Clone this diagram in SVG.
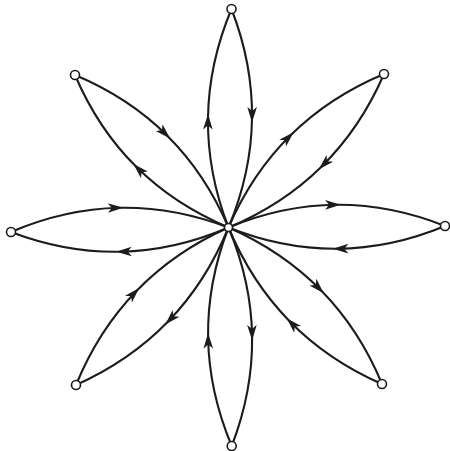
<svg xmlns="http://www.w3.org/2000/svg" width="450" height="451" viewBox="0 0 450 451">
<style>
.edge{fill:none;stroke:#1c1c1c;stroke-width:2.1;marker-mid:url(#arr)}
.node{fill:#fff;stroke:#1c1c1c;stroke-width:1.6}
</style>
<defs>
<marker id="arr" markerUnits="userSpaceOnUse" viewBox="-18 -6 24 12" markerWidth="24" markerHeight="12" refX="-4" refY="0" orient="auto">
<path d="M0,0 L-15.5,-4.8 L-11.5,0 L-15.5,4.8 Z" fill="#1c1c1c"/>
</marker>
</defs>
<rect width="450" height="451" fill="#fff"/>
<g id="connectors">
<path class="edge" d="M228.5,227.5 Q207.25,172.6 208,117.95 Q208.75,63.3 231.5,9"/>
<path class="edge" d="M231.5,9 Q252.75,63.9 252,118.55 Q251.25,173.2 228.5,227.5"/>
<path class="edge" d="M228.5,227.5 Q282.48,205.13 336.6,204.75 Q390.73,204.38 445,226"/>
<path class="edge" d="M445,226 Q391.03,248.38 336.9,248.75 Q282.78,249.13 228.5,227.5"/>
<path class="edge" d="M228.5,227.5 Q251.3,281.8 252.1,336.43 Q252.9,391.06 231.7,446"/>
<path class="edge" d="M231.7,446 Q208.9,391.7 208.1,337.07 Q207.3,282.45 228.5,227.5"/>
<path class="edge" d="M228.5,227.5 Q174.58,250.62 120.2,251.75 Q65.83,252.87 11,232"/>
<path class="edge" d="M11,232 Q64.92,208.88 119.3,207.75 Q173.67,206.63 228.5,227.5"/>
<path class="edge" d="M228.5,227.5 Q174.62,204.98 136.24,166.86 Q97.87,128.73 75,75"/>
<path class="edge" d="M75,75 Q128.88,97.52 167.26,135.64 Q205.63,173.77 228.5,227.5"/>
<path class="edge" d="M228.5,227.5 Q251.92,173.47 290.8,135.09 Q329.67,96.72 384,74"/>
<path class="edge" d="M384,74 Q360.58,128.03 321.7,166.41 Q282.83,204.78 228.5,227.5"/>
<path class="edge" d="M228.5,227.5 Q206.18,282.18 168.05,321.55 Q129.93,360.93 76,385"/>
<path class="edge" d="M76,385 Q98.32,330.32 136.45,290.95 Q174.57,251.57 228.5,227.5"/>
<path class="edge" d="M228.5,227.5 Q282.59,251.22 320.96,290.34 Q359.34,329.47 382,384"/>
<path class="edge" d="M382,384 Q327.92,360.28 289.54,321.16 Q251.17,282.03 228.5,227.5"/>
</g>
<g id="node-center"><circle class="node" cx="228.5" cy="227.5" r="4"/></g>
<g id="node-top"><circle class="node" cx="231.5" cy="9" r="4.5"/></g>
<g id="node-top-right"><circle class="node" cx="384" cy="74" r="4.5"/></g>
<g id="node-right"><circle class="node" cx="445" cy="226" r="4.5"/></g>
<g id="node-bottom-right"><circle class="node" cx="382" cy="384" r="4.5"/></g>
<g id="node-bottom"><circle class="node" cx="231.7" cy="446" r="4.5"/></g>
<g id="node-bottom-left"><circle class="node" cx="76" cy="385" r="4.5"/></g>
<g id="node-left"><circle class="node" cx="11" cy="232" r="4.5"/></g>
<g id="node-top-left"><circle class="node" cx="75" cy="75" r="4.5"/></g>
</svg>
